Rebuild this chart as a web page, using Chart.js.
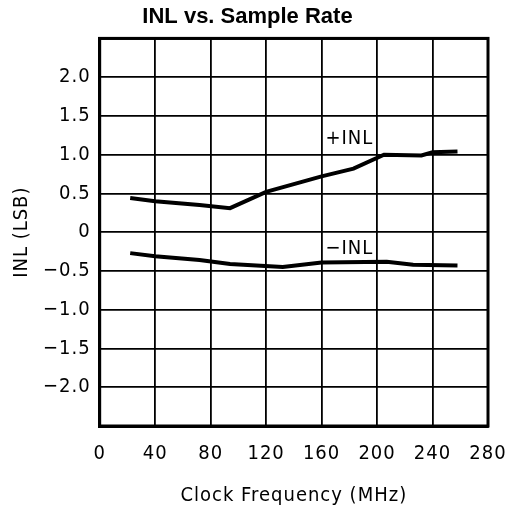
<!DOCTYPE html>
<html>
<head>
<meta charset="utf-8">
<script src="https://cdn.jsdelivr.net/npm/chart.js@4"></script>
<style>
html,body{margin:0;padding:0;background:#fff;}
#wrap{width:518px;height:511px;}
</style>
</head>
<body>
<div id="wrap"><canvas id="c" width="518" height="511"></canvas></div>
<script>
const titleText = "INL vs. Sample Rate";
const xTitle = "Clock Frequency (MHz)";
const yTitle = "INL (LSB)";
const xTicks = [0, 40, 80, 120, 160, 200, 240, 280];
const yTicks = [-2.5, -2.0, -1.5, -1.0, -0.5, 0, 0.5, 1.0, 1.5, 2.0, 2.5];

const posFreq = [22, 40, 72, 94, 120, 160, 183, 205, 232, 240, 258];
const posINL  = [0.44, 0.40, 0.35, 0.31, 0.52, 0.72, 0.82, 1.00, 0.99, 1.03, 1.04];

const negFreq = [22, 40, 72, 94, 132, 160, 207, 226, 258];
const negINL  = [-0.27, -0.31, -0.36, -0.41, -0.45, -0.39, -0.38, -0.42, -0.43];

const labelTexts = ["+INL", "\u2212INL"];
const labelX = [180, 180];
const labelY = [1.2, -0.21];

const FONT = '"DejaVu Sans Condensed", "DejaVu Sans"';
const FS = 20;
const SPACING = '1px';

const fmt = v => {
  if (Math.abs(v) < 1e-9) return "0";
  const s = Math.abs(v).toFixed(1);
  return (v < 0 ? "\u2212" : "") + s;
};

const spacingPlugin = {
  id: 'spacing',
  beforeLayout(chart) {
    chart.ctx.letterSpacing = SPACING;
    const tb = chart.titleBlock;
    if (tb && !tb._wrapped) {
      const orig = tb.draw.bind(tb);
      tb.draw = function() {
        const c = chart.ctx;
        const prev = c.letterSpacing;
        c.letterSpacing = '0px';
        orig();
        c.letterSpacing = prev;
      };
      tb._wrapped = true;
    }
  },
  beforeDraw(chart) {
    chart.ctx.letterSpacing = SPACING;
  }
};

const labelPlugin = {
  id: 'lbls',
  afterDatasetsDraw(chart) {
    const {ctx, scales} = chart;
    ctx.save();
    ctx.letterSpacing = SPACING;
    ctx.fillStyle = '#000';
    ctx.font = FS + 'px ' + FONT;
    ctx.textAlign = 'center';
    ctx.textBaseline = 'middle';
    for (let i = 0; i < labelTexts.length; i++) {
      ctx.fillText(labelTexts[i], scales.x.getPixelForValue(labelX[i]), scales.y.getPixelForValue(labelY[i]));
    }
    ctx.restore();
  }
};

new Chart(document.getElementById('c'), {
  type: 'line',
  data: {
    datasets: [
      {label: '+INL', data: posFreq.map((x, i) => ({x, y: posINL[i]})), borderColor: '#000', borderWidth: 4, pointRadius: 0, tension: 0, fill: false},
      {label: '-INL', data: negFreq.map((x, i) => ({x, y: negINL[i]})), borderColor: '#000', borderWidth: 4, pointRadius: 0, tension: 0, fill: false}
    ]
  },
  options: {
    responsive: false,
    animation: false,
    layout: {padding: {left: 7, right: 30, top: 0, bottom: 3}},
    plugins: {
      legend: {display: false},
      tooltip: {enabled: false},
      title: {display: true, text: titleText, color: '#000', font: {family: 'Liberation Sans', size: 22, weight: 'bold'}, padding: {top: 4, bottom: 8}}
    },
    scales: {
      x: {
        type: 'linear', min: 0, max: 280,
        afterBuildTicks: s => { s.ticks = xTicks.map(v => ({value: v})); },
        afterFit: s => { s.paddingLeft = 0; s.paddingRight = 0; },
        ticks: {color: '#000', font: {family: FONT, size: FS}, padding: 16, maxRotation: 0, callback: v => String(v)},
        grid: {color: '#000', lineWidth: 1.8, drawTicks: false},
        border: {color: '#000', width: 3},
        title: {display: true, text: xTitle, color: '#000', font: {family: FONT, size: FS}, padding: {top: 2, bottom: 0}}
      },
      y: {
        type: 'linear', min: -2.5, max: 2.5,
        afterBuildTicks: s => { s.ticks = yTicks.map(v => ({value: v})); },
        ticks: {color: '#000', font: {family: FONT, size: FS}, padding: 9, callback: v => (Math.abs(Math.abs(v) - 2.5) < 1e-9 ? "" : fmt(v))},
        grid: {color: '#000', lineWidth: 1.8, drawTicks: false},
        border: {color: '#000', width: 3},
        title: {display: true, text: yTitle, color: '#000', font: {family: FONT, size: FS}, padding: {top: 3, bottom: 0}}
      }
    }
  },
  plugins: [spacingPlugin, labelPlugin, {
    id: 'frame',
    afterDraw(chart) {
      const {ctx, chartArea: a} = chart;
      ctx.save();
      ctx.strokeStyle = '#000';
      ctx.lineWidth = 3;
      ctx.strokeRect(a.left, a.top, a.right - a.left, a.bottom - a.top);
      ctx.restore();
    }
  }]
});
</script>
</body>
</html>
